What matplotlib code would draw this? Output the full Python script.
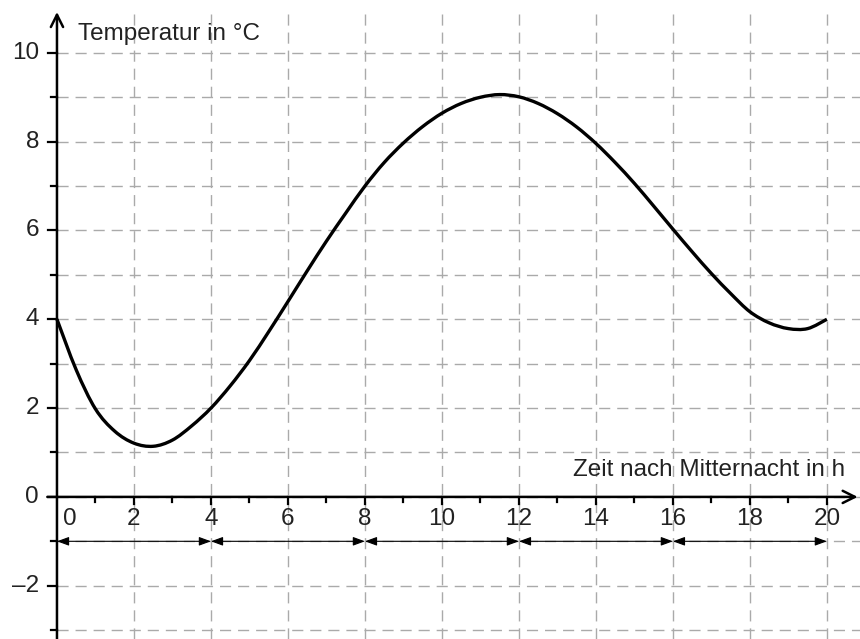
import numpy as np
import matplotlib.pyplot as plt
from matplotlib.path import Path
from matplotlib.patches import PathPatch

plt.rcParams['font.family'] = ['Liberation Sans', 'DejaVu Sans']

# Werte
stunden = [0, 0.5, 1, 1.5, 2, 2.5, 3, 3.5, 4, 4.5, 5, 5.5, 6, 6.5, 7, 7.5, 8,
           8.5, 9, 9.5, 10, 10.5, 11, 11.5, 12, 12.5, 13, 13.5, 14, 14.5, 15,
           15.5, 16, 16.5, 17, 17.5, 18, 18.5, 19, 19.5, 20]
temperatur = [4.0, 2.86, 1.98, 1.48, 1.21, 1.14, 1.28, 1.6, 2.0, 2.5, 3.07,
              3.72, 4.4, 5.09, 5.76, 6.39, 7.0, 7.53, 7.97, 8.34, 8.64, 8.86, 9.0,
              9.06, 9.01, 8.86, 8.63, 8.33, 7.96, 7.53, 7.06, 6.55, 6.03, 5.52, 5.03,
              4.58, 4.17, 3.92, 3.79, 3.79, 4.0]
x_ticks = [0, 2, 4, 6, 8, 10, 12, 14, 16, 18, 20]
y_ticks = [-2, 0, 2, 4, 6, 8, 10]
y_labels = ['–2', '0', '2', '4', '6', '8', '10']
intervalle = [0, 4, 8, 12, 16, 20]

fig = plt.figure(figsize=(8.6, 6.39), dpi=100)
ax = fig.add_axes([0, 0, 1, 1])
ax.set_xlim(-1.48, 20.86)
ax.set_ylim(-3.2, 11.19)
ax.axis('off')

grau = '#aaaaaa'
ax.vlines(range(2, 21, 2), -3.2, 11.0, colors=grau, linestyles=(0, (8, 5)), lw=1, zorder=1)
ax.hlines(range(-3, 11), 0, 20.86, colors=grau, linestyles=(0, (8, 5)), lw=1, zorder=1)

# Achsen mit Pfeilen
ax.annotate('', xy=(20.8, 0), xytext=(-0.25, 0),
            arrowprops=dict(arrowstyle='->', lw=1.8, color='black',
                            mutation_scale=22, shrinkA=0, shrinkB=0), zorder=3)
ax.annotate('', xy=(0, 10.92), xytext=(0, -3.2),
            arrowprops=dict(arrowstyle='->', lw=1.8, color='black',
                            mutation_scale=22, shrinkA=0, shrinkB=0), zorder=3)

# Teilstriche
for yy in range(-3, 11):
    l = 0.23 if yy % 2 == 0 else 0.15
    ax.plot([-l, 0], [yy, yy], color='black', lw=1.6, zorder=3)
for xx in range(1, 21):
    l = 0.16 if xx % 2 == 0 else 0.11
    ax.plot([xx, xx], [0, -l], color='black', lw=1.6, zorder=3)

for xx in x_ticks:
    pos = 0.34 if xx == 0 else xx
    ax.text(pos, -0.24, str(xx), ha='center', va='top', fontsize=17.5, color='#222222')
for yy, lab in zip(y_ticks, y_labels):
    ax.text(-0.47, yy, lab, ha='right', va='center', fontsize=17.5, color='#222222')

ax.text(0.55, 10.3, 'Temperatur in °C', ha='left', va='baseline', fontsize=17.5, color='#222222')
ax.text(20.48, 0.48, 'Zeit nach Mitternacht in h', ha='right', va='baseline',
        fontsize=17.5, color='#222222')

# Kurve als glatter Pfad (Catmull-Rom -> Bezier)
p = np.column_stack([stunden, temperatur])
pe = np.vstack([p[0], p, p[-1]])
verts = [p[0]]
codes = [Path.MOVETO]
for i in range(len(p) - 1):
    p0, p1, p2, p3 = pe[i], pe[i + 1], pe[i + 2], pe[i + 3]
    verts += [p1 + (p2 - p0) / 6, p2 - (p3 - p1) / 6, p2]
    codes += [Path.CURVE4] * 3
ax.add_patch(PathPatch(Path(verts, codes), fill=False, edgecolor='black', lw=2.4,
                       zorder=4, capstyle='butt'))

# Doppelpfeile bei -1
for a, b in zip(intervalle[:-1], intervalle[1:]):
    ax.annotate('', xy=(b, -1), xytext=(a, -1),
                arrowprops=dict(arrowstyle='<|-|>,head_length=0.6,head_width=0.22',
                                lw=0.8, color='black', mutation_scale=12,
                                shrinkA=0, shrinkB=0), zorder=3)

fig.savefig('out.png', dpi=100)
